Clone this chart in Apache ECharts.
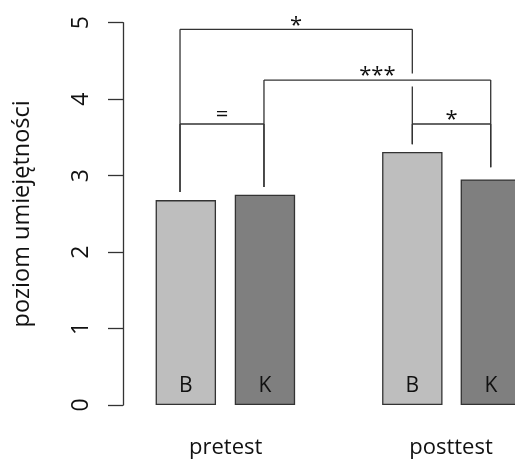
<!DOCTYPE html>
<html>
<head>
<meta charset="utf-8">
<script src="https://cdn.jsdelivr.net/npm/echarts@6/dist/echarts.min.js"></script>
<style>
  html, body { margin: 0; padding: 0; background: #fff; }
  #chart { width: 515px; height: 460px; }
</style>
</head>
<body>
<div id="chart"></div>
<script>
// bar data (x in bar-width units along the axis)
const groupNames = ['pretest', 'posttest']
const groupCenters = [1.7, 5.43]
const barLabels = ['B', 'K']
const posB = [1.04, 4.79]
const posK = [2.35, 6.09]
const valuesB = [2.68, 3.31]
const valuesK = [2.75, 2.95]
const yTicks = [0, 1, 2, 3, 4, 5]

// significance brackets: x1, x2, height, left leg end, right leg end
const bracketX1 = [0.944, 2.334, 0.944, 4.79]
const bracketX2 = [4.79, 6.088, 2.334, 6.088]
const bracketY = [4.914, 4.25, 3.675, 3.675]
const bracketLeftEnd = [2.786, 2.85, 2.786, 3.41]
const bracketRightEnd = [3.41, 3.11, 2.85, 3.11]
const bracketText = ['*', '***', '=', '*']

const FONT = 'Open Sans'
const INK = '#111'
const chart = echarts.init(document.getElementById('chart'))

const bracketData = bracketText.map((t, i) => [bracketX1[i], bracketX2[i], bracketY[i], bracketLeftEnd[i], bracketRightEnd[i], i])

// vertical leg with a small gap wherever another bracket's horizontal crosses it
function legSegments (api, x, yA, yB) {
  const top = api.coord([x, Math.max(yA, yB)])
  const bottom = api.coord([x, Math.min(yA, yB)])
  const cuts = []
  bracketData.forEach(b => {
    if (x > b[0] + 0.01 && x < b[1] - 0.01 && b[2] < Math.max(yA, yB) && b[2] > Math.min(yA, yB)) {
      cuts.push(api.coord([x, b[2]])[1])
    }
  })
  cuts.sort((a, b) => a - b)
  const segs = []
  let start = top[1]
  cuts.forEach(c => {
    segs.push([start, c - 6.5])
    start = c + 6.5
  })
  segs.push([start, bottom[1]])
  return segs.map(s => ({
    type: 'line',
    shape: { x1: top[0], y1: s[0], x2: top[0], y2: s[1] },
    style: { stroke: '#333', lineWidth: 1.3 }
  }))
}

const option = {
  animation: false,
  grid: { left: 123, top: 22.7, height: 382.3, width: 422.8, outerBoundsMode: 'none' },
  xAxis: {
    type: 'value',
    min: 0,
    max: 7,
    axisLine: { show: false },
    axisTick: { show: false },
    splitLine: { show: false },
    axisLabel: {
      customValues: groupCenters,
      formatter: v => groupNames[groupCenters.indexOf(v)] || '',
      margin: 32,
      fontFamily: FONT,
      fontSize: 22,
      color: INK
    }
  },
  yAxis: {
    type: 'value',
    min: yTicks[0],
    max: yTicks[yTicks.length - 1],
    interval: 1,
    name: 'poziom umiejętności',
    nameLocation: 'middle',
    nameGap: 89,
    nameTextStyle: { fontFamily: FONT, fontSize: 23.5, color: INK },
    axisLine: { show: true, lineStyle: { color: '#333', width: 1.3 } },
    axisTick: { show: true, length: 15, lineStyle: { color: '#333', width: 1.3 } },
    splitLine: { show: false },
    axisLabel: {
      rotate: 90,
      margin: 30,
      fontFamily: FONT,
      fontSize: 23,
      color: INK
    }
  },
  series: [
    {
      name: barLabels[0],
      type: 'bar',
      barWidth: 60.4,
      barGap: '-100%',
      data: posB.map((x, i) => [x, valuesB[i]]),
      itemStyle: { color: '#bebebe', borderColor: '#333', borderWidth: 1.3 },
      label: {
        show: true, position: 'insideBottom', distance: 8,
        formatter: barLabels[0], fontFamily: FONT, fontSize: 21, color: INK
      }
    },
    {
      name: barLabels[1],
      type: 'bar',
      barWidth: 60.4,
      barGap: '-100%',
      data: posK.map((x, i) => [x, valuesK[i]]),
      itemStyle: { color: '#7f7f7f', borderColor: '#333', borderWidth: 1.3 },
      label: {
        show: true, position: 'insideBottom', distance: 8,
        formatter: barLabels[1], fontFamily: FONT, fontSize: 21, color: INK
      }
    },
    {
      type: 'custom',
      silent: true,
      data: bracketData,
      renderItem (params, api) {
        const x1 = api.value(0)
        const x2 = api.value(1)
        const y = api.value(2)
        const p1 = api.coord([x1, y])
        const p2 = api.coord([x2, y])
        const txt = bracketText[api.value(5)]
        const children = [
          { type: 'line', shape: { x1: p1[0], y1: p1[1], x2: p2[0], y2: p2[1] }, style: { stroke: '#333', lineWidth: 1.3 } }
        ]
          .concat(legSegments(api, x1, y, api.value(3)))
          .concat(legSegments(api, x2, y, api.value(4)))
        children.push({
          type: 'text',
          style: {
            text: txt,
            x: (p1[0] + p2[0]) / 2,
            y: p1[1] + (txt === '=' ? 2 : 7),
            align: 'center',
            verticalAlign: 'bottom',
            fontFamily: FONT,
            fontSize: 22,
            fill: INK
          }
        })
        return { type: 'group', children }
      }
    }
  ]
}
chart.setOption(option)
</script>
</body>
</html>
